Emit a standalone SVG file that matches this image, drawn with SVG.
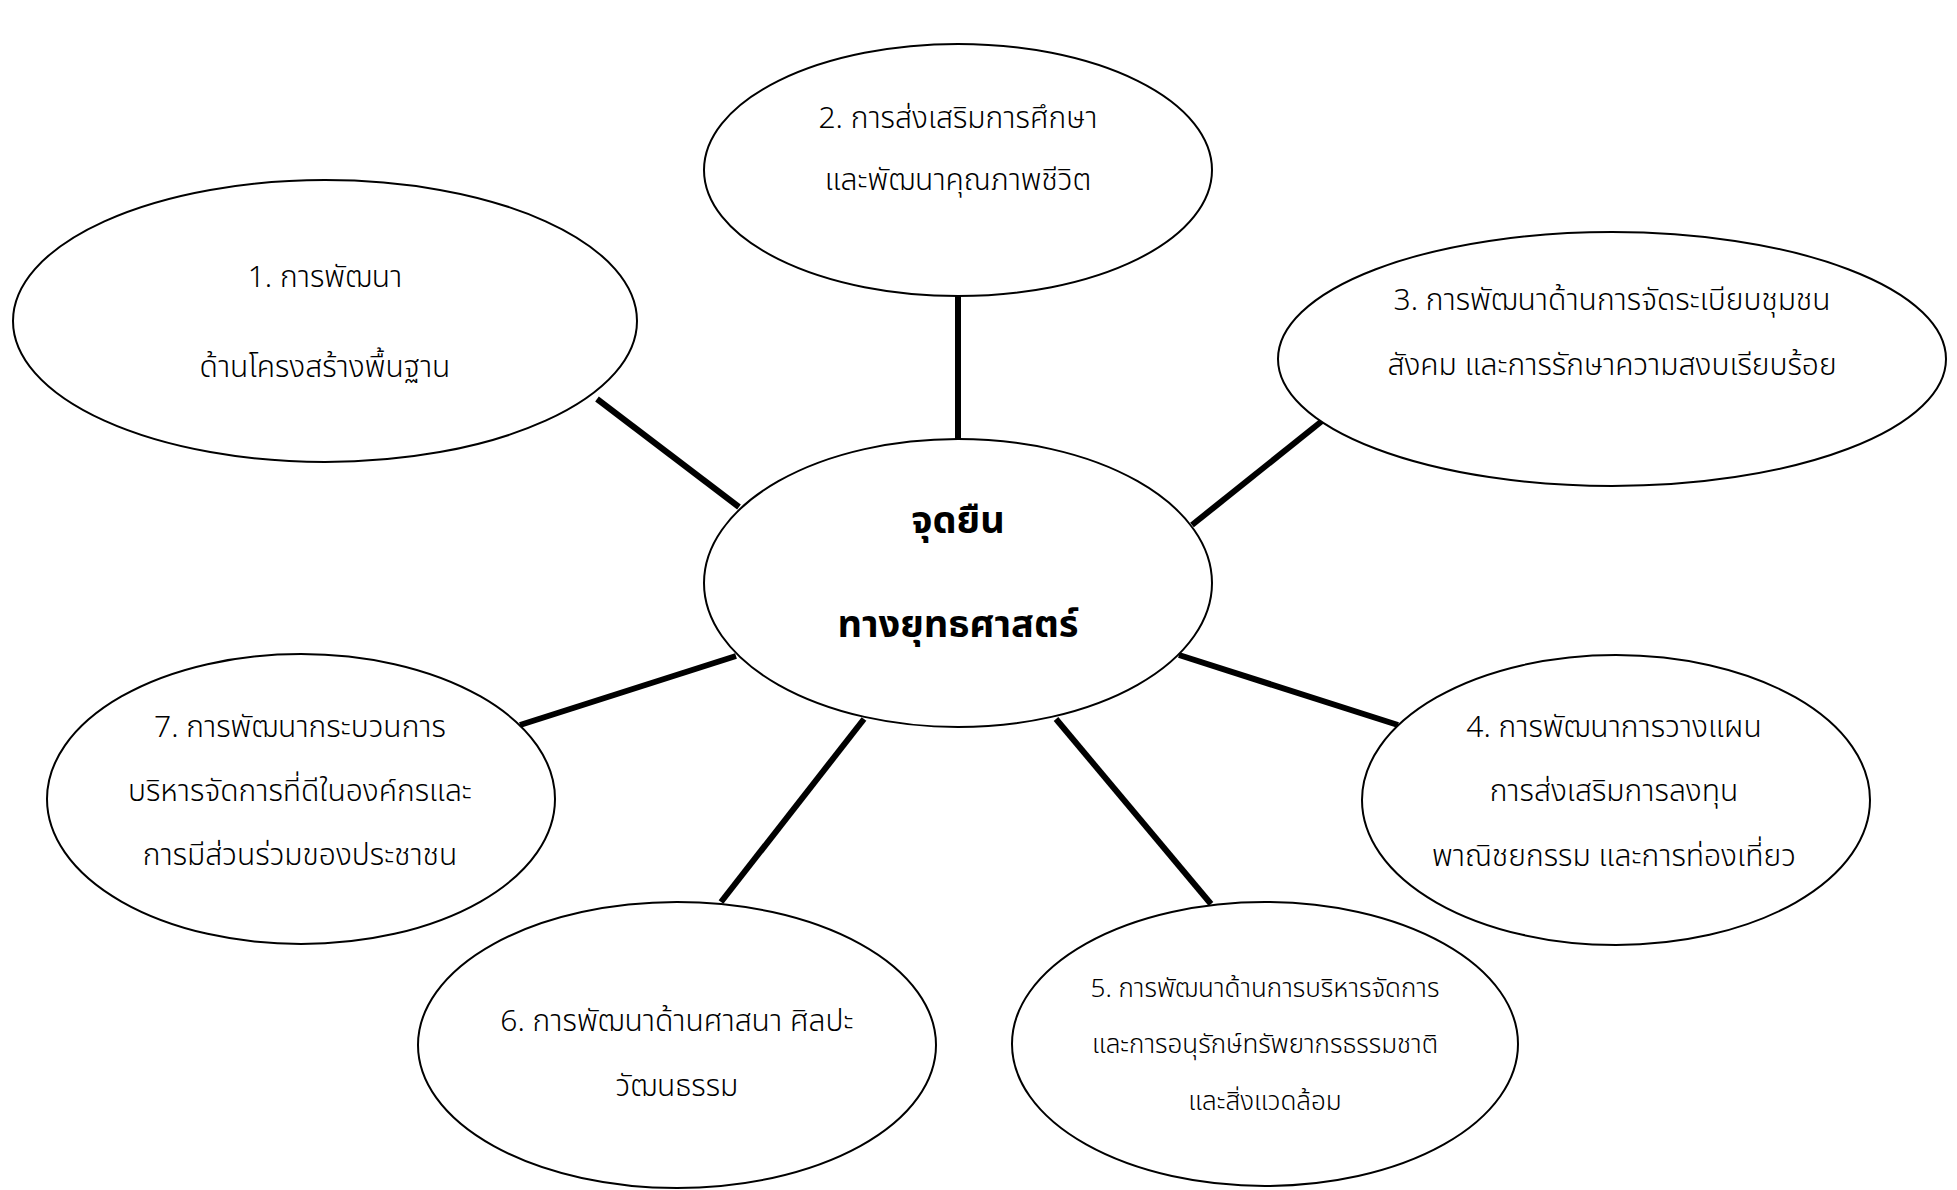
<svg xmlns="http://www.w3.org/2000/svg" width="1957" height="1190" viewBox="0 0 1957 1190">
<style>
.bg{fill:#fff}
.node ellipse{fill:#fff;stroke:#000;stroke-width:2}
.conn line{stroke:#000;stroke-width:6}
text{font-family:"Noto Sans Thai","Noto Sans Thai UI","Leelawadee UI",Tahoma,"Noto Sans","DejaVu Sans",sans-serif;fill:#000;text-anchor:middle;font-size:30px;font-weight:300}
.sm{font-size:26px}
.big{font-size:38px;font-weight:bold}
</style>
<rect class="bg" x="0" y="0" width="1957" height="1190"/>
<g id="connectors" class="conn">
<line x1="597" y1="399" x2="739" y2="507"/>
<line x1="958" y1="296" x2="958" y2="439"/>
<line x1="1327" y1="417" x2="1192" y2="525"/>
<line x1="1179" y1="655" x2="1398" y2="725"/>
<line x1="1056" y1="719" x2="1211" y2="904"/>
<line x1="864" y1="719" x2="721" y2="902"/>
<line x1="736" y1="656" x2="520" y2="725"/>
</g>
<g id="node1" class="node">
<ellipse cx="325" cy="321" rx="312" ry="141"/>
<text x="325" y="287">1. การพัฒนา</text>
<text x="325" y="377">ด้านโครงสร้างพื้นฐาน</text>
</g>
<g id="node2" class="node">
<ellipse cx="958" cy="170" rx="254" ry="126"/>
<text x="958" y="128">2. การส่งเสริมการศึกษา</text>
<text x="958" y="190">และพัฒนาคุณภาพชีวิต</text>
</g>
<g id="node3" class="node">
<ellipse cx="1612" cy="359" rx="334" ry="127"/>
<text x="1612" y="310">3. การพัฒนาด้านการจัดระเบียบชุมชน</text>
<text x="1612" y="375">สังคม และการรักษาความสงบเรียบร้อย</text>
</g>
<g id="center" class="node">
<ellipse cx="958" cy="583" rx="254" ry="144"/>
<text x="958" y="533" class="big">จุดยืน</text>
<text x="958" y="637" class="big">ทางยุทธศาสตร์</text>
</g>
<g id="node4" class="node">
<ellipse cx="1616" cy="800" rx="254" ry="145"/>
<text x="1614" y="737">4. การพัฒนาการวางแผน</text>
<text x="1614" y="801">การส่งเสริมการลงทุน</text>
<text x="1614" y="866">พาณิชยกรรม และการท่องเที่ยว</text>
</g>
<g id="node5" class="node">
<ellipse cx="1265" cy="1044" rx="253" ry="142"/>
<text x="1265" y="997" class="sm">5. การพัฒนาด้านการบริหารจัดการ</text>
<text x="1265" y="1053" class="sm">และการอนุรักษ์ทรัพยากรธรรมชาติ</text>
<text x="1265" y="1110" class="sm">และสิ่งแวดล้อม</text>
</g>
<g id="node6" class="node">
<ellipse cx="677" cy="1045" rx="259" ry="143"/>
<text x="677" y="1031">6. การพัฒนาด้านศาสนา ศิลปะ</text>
<text x="677" y="1096">วัฒนธรรม</text>
</g>
<g id="node7" class="node">
<ellipse cx="301" cy="799" rx="254" ry="145"/>
<text x="300" y="737">7. การพัฒนากระบวนการ</text>
<text x="300" y="801">บริหารจัดการที่ดีในองค์กรและ</text>
<text x="300" y="865">การมีส่วนร่วมของประชาชน</text>
</g>
</svg>
